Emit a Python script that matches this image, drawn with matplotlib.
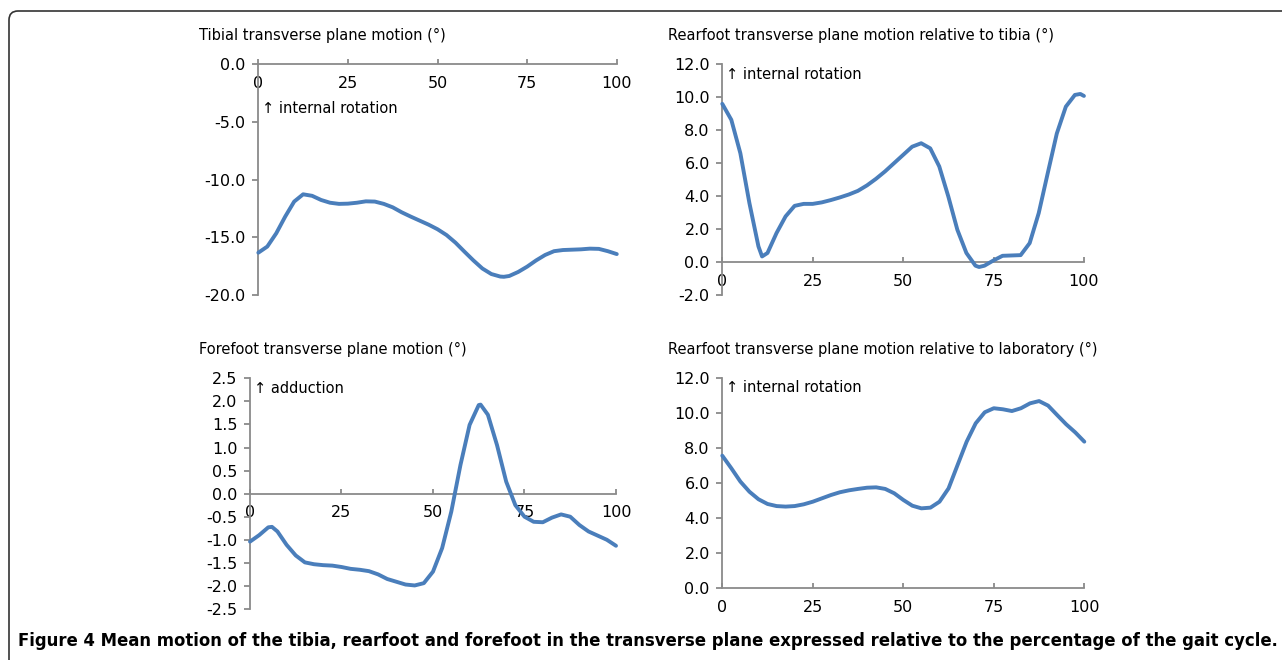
import numpy as np
import matplotlib
matplotlib.use("Agg")
import matplotlib.pyplot as plt
from matplotlib.patches import FancyBboxPatch
from matplotlib.transforms import IdentityTransform

# --- data (percentage of gait cycle) ---
tibia_x = [0, 2.5, 5, 7.5, 10, 12.5, 15, 17.5, 20, 22.5, 25, 27.5, 30, 32.5, 35, 37.5,
           40, 42.5, 45, 47.5, 50, 52.5, 55, 57.5, 60, 62.5, 65, 67.5, 68.5, 70, 72.5, 75,
           77.5, 80, 82.5, 85, 87.5, 90, 92.5, 95, 97.5, 100]
tibia = [-16.33, -15.8, -14.65, -13.2, -11.9, -11.27, -11.4, -11.76, -12.0, -12.1, -12.08,
         -12.0, -11.88, -11.9, -12.1, -12.4, -12.83, -13.2, -13.55, -13.9, -14.3, -14.8,
         -15.46, -16.24, -17.0, -17.7, -18.18, -18.4, -18.42, -18.35, -18.0, -17.54, -17.0,
         -16.53, -16.2, -16.1, -16.07, -16.04, -15.98, -16.0, -16.2, -16.45]

rearfoot_tibia_x = [0, 2.5, 5, 7.5, 10, 11, 12.5, 15, 17.5, 20, 22.5, 25, 27.5, 30, 32.5,
                    35, 37.5, 40, 42.5, 45, 47.5, 50, 52.5, 55, 57.5, 60, 62.5, 65, 67.5,
                    70, 71, 72.5, 75, 77.5, 80, 82.5, 85, 87.5, 90, 92.5, 95, 97.5, 99, 100]
rearfoot_tibia = [9.6, 8.63, 6.6, 3.58, 0.95, 0.34, 0.55, 1.76, 2.77, 3.41, 3.53, 3.53,
                  3.62, 3.76, 3.92, 4.1, 4.32, 4.65, 5.05, 5.5, 6.0, 6.5, 7.0, 7.21, 6.9,
                  5.8, 3.98, 1.96, 0.55, -0.22, -0.3, -0.22, 0.1, 0.38, 0.4, 0.42, 1.15,
                  2.97, 5.4, 7.8, 9.43, 10.14, 10.2, 10.08]

forefoot_x = [0, 2.5, 5, 6, 7.5, 10, 12.5, 15, 17.5, 20, 22.5, 25, 27.5, 30, 32.5, 35,
              37.5, 40, 42.5, 45, 47.5, 50, 52.5, 55, 57.5, 60, 62.5, 63, 65, 67.5, 70,
              72.5, 75, 77.5, 80, 82.5, 85, 87.5, 90, 92.5, 95, 97.5, 100]
forefoot = [-1.04, -0.9, -0.73, -0.72, -0.82, -1.11, -1.34, -1.49, -1.53, -1.55, -1.56,
            -1.59, -1.63, -1.65, -1.68, -1.75, -1.85, -1.91, -1.97, -1.99, -1.94, -1.69,
            -1.18, -0.39, 0.62, 1.49, 1.92, 1.93, 1.71, 1.05, 0.26, -0.25, -0.5, -0.61,
            -0.62, -0.52, -0.45, -0.5, -0.68, -0.82, -0.91, -1.0, -1.13]

rearfoot_lab_x = [0, 2.5, 5, 7.5, 10, 12.5, 15, 17.5, 20, 22.5, 25, 27.5, 30, 32.5, 35,
                  37.5, 40, 42.5, 45, 47.5, 50, 52.5, 55, 57.5, 60, 62.5, 65, 67.5, 70,
                  72.5, 75, 77.5, 80, 82.5, 85, 87.5, 90, 92.5, 95, 97.5, 100]
rearfoot_lab = [7.58, 6.86, 6.1, 5.52, 5.09, 4.82, 4.7, 4.67, 4.7, 4.8, 4.95, 5.14, 5.33,
                5.49, 5.6, 5.68, 5.75, 5.77, 5.68, 5.43, 5.05, 4.72, 4.57, 4.61, 4.95,
                5.71, 7.05, 8.38, 9.43, 10.06, 10.29, 10.23, 10.13, 10.29, 10.57, 10.7,
                10.44, 9.9, 9.37, 8.91, 8.38]

x_ticks = [0, 25, 50, 75, 100]

panels = [
    # (title, note, x, y, ylim, ystep, rect)
    ("Tibial transverse plane motion (°)", "↑ internal rotation", tibia_x, tibia,
     (-20, 0), 5, [0.2015, 0.5530, 0.2796, 0.3496]),
    ("Rearfoot transverse plane motion relative to tibia (°)", "↑ internal rotation",
     rearfoot_tibia_x, rearfoot_tibia, (-2, 12), 2, [0.5634, 0.5530, 0.2821, 0.3496]),
    ("Forefoot transverse plane motion (°)", "↑ adduction", forefoot_x, forefoot,
     (-2.5, 2.5), 0.5, [0.1950, 0.0773, 0.2855, 0.3495]),
    ("Rearfoot transverse plane motion relative to laboratory (°)", "↑ internal rotation",
     rearfoot_lab_x, rearfoot_lab, (0, 12), 2, [0.5634, 0.1086, 0.2824, 0.3182]),
]

FONT = ["DejaVu Sans"]
LINE_COLOR = "#4a7ebb"
AXIS_COLOR = "#8a8a8a"

plt.rcParams["font.family"] = FONT

fig = plt.figure(figsize=(12.82, 6.60), dpi=100)

# note positions (axes fraction) for the "↑ ..." labels
note_pos = [(0.01, 0.81), (0.01, 0.955), (0.01, 0.955), (0.01, 0.955)]
title_px = [(199, 35), (668, 35), (199, 349), (668, 349)]

for i, (title, note, xs, ys, ylim, ystep, rect) in enumerate(panels):
    ax = fig.add_axes(rect)
    ax.plot(xs, ys, color=LINE_COLOR, lw=2.8, solid_joinstyle="round",
            solid_capstyle="round", clip_on=False, zorder=3)
    ax.set_xlim(0, 100)
    ax.set_ylim(*ylim)
    yt = np.arange(ylim[0], ylim[1] + ystep / 2, ystep)
    ax.set_yticks(yt)
    ax.set_yticklabels([f"{v:.1f}" for v in yt])
    ax.set_xticks(x_ticks)
    ax.set_xticklabels([str(t) for t in x_ticks])

    for s in ("top", "right"):
        ax.spines[s].set_visible(False)
    ax.spines["bottom"].set_position(("data", 0))
    for s in ("left", "bottom"):
        ax.spines[s].set_color(AXIS_COLOR)
        ax.spines[s].set_linewidth(1.3)
    ax.tick_params(axis="y", direction="out", length=4, width=1.3, color=AXIS_COLOR,
                   pad=5, labelsize=11.5, labelcolor="black")
    ax.tick_params(axis="x", direction="in", length=3.5, width=1.3, color=AXIS_COLOR,
                   pad=8.5, labelsize=11.5, labelcolor="black")
    ax.patch.set_visible(False)

    ax.text(note_pos[i][0], note_pos[i][1], note, transform=ax.transAxes,
            fontsize=10.5, ha="left", va="center")

    tx, ty = title_px[i]
    fig.text(tx / 1282, 1 - ty / 660, title, fontsize=10.5, ha="left", va="center")

# caption
caption = ("Figure 4 Mean motion of the tibia, rearfoot and forefoot in the transverse "
           "plane expressed relative to the percentage of the gait cycle.")
cap = fig.text(18 / 1282, 1 - 641 / 660, caption, fontsize=13, fontweight="bold",
               ha="left", va="center",
               family=["Liberation Sans Narrow", "DejaVu Sans Condensed", "DejaVu Sans"])
fig.canvas.draw()
w = cap.get_window_extent().width
cap.set_fontsize(13 * 1257 / w)

# rounded frame open on the right and bottom
frame = FancyBboxPatch((9, -30), 1400, 660 - 11 + 30,
                       boxstyle="round,pad=0,rounding_size=9",
                       transform=IdentityTransform(), fill=False,
                       edgecolor="#333333", lw=1.2)
fig.patches.append(frame)

fig.savefig("out.png", dpi=100)
